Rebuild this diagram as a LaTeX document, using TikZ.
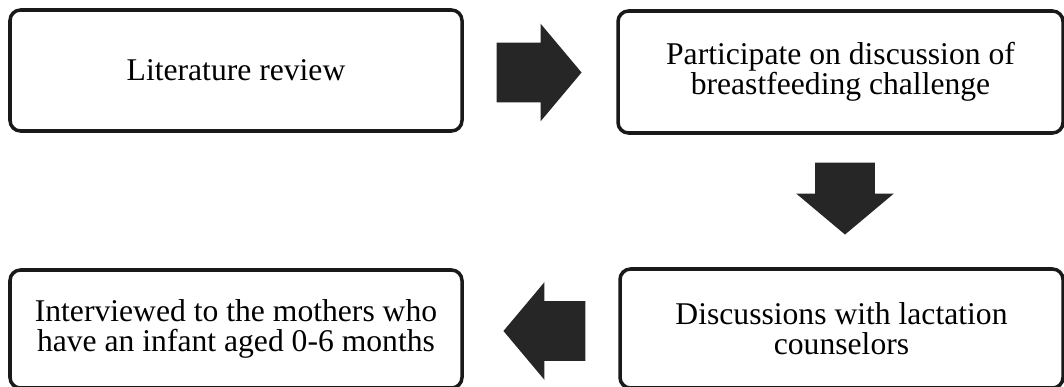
\documentclass[tikz,border=0pt]{standalone}
\usepackage{fontspec}
\setmainfont{Liberation Serif}
\usetikzlibrary{shapes.arrows}

\begin{document}
\begin{tikzpicture}[
    stepbox/.style={draw=black!90, line width=2pt, rounded corners=6pt, align=center,
        font=\fontsize{18}{17}\selectfont},
    bigarrow/.style={single arrow, fill=black!85, draw=none, inner xsep=0pt, inner ysep=0.59cm,
        single arrow head extend=0.38cm, single arrow tip angle=100, anchor=tip}
    ]
        \useasboundingbox (0,0) rectangle (21.28,-7.74);

        % Boxes
        \node[stepbox, minimum width=9.04cm, minimum height=2.42cm] (lit)  at (4.72,-1.41)  {Literature review};
        \node[stepbox, minimum width=8.9cm,  minimum height=2.44cm] (part) at (16.81,-1.44) {Participate on discussion of\\breastfeeding challenge};
        \node[stepbox, minimum width=8.86cm, minimum height=2.38cm] (disc) at (16.83,-6.57) {Discussions with lactation\\counselors};
        \node[stepbox, minimum width=9.04cm, minimum height=2.36cm] (int)  at (4.72,-6.58)  {Interviewed to the mothers who\\have an infant aged 0-6 months};

        % Arrows between boxes
        \node[bigarrow, minimum height=1.7cm]              (a1) at (11.64,-1.45) {};
        \node[bigarrow, minimum height=1.44cm, rotate=-90] (a2) at (16.9,-4.7)   {};
        \node[bigarrow, minimum height=1.64cm, rotate=180] (a3) at (10.06,-6.62) {};
    \end{tikzpicture}
\end{document}
